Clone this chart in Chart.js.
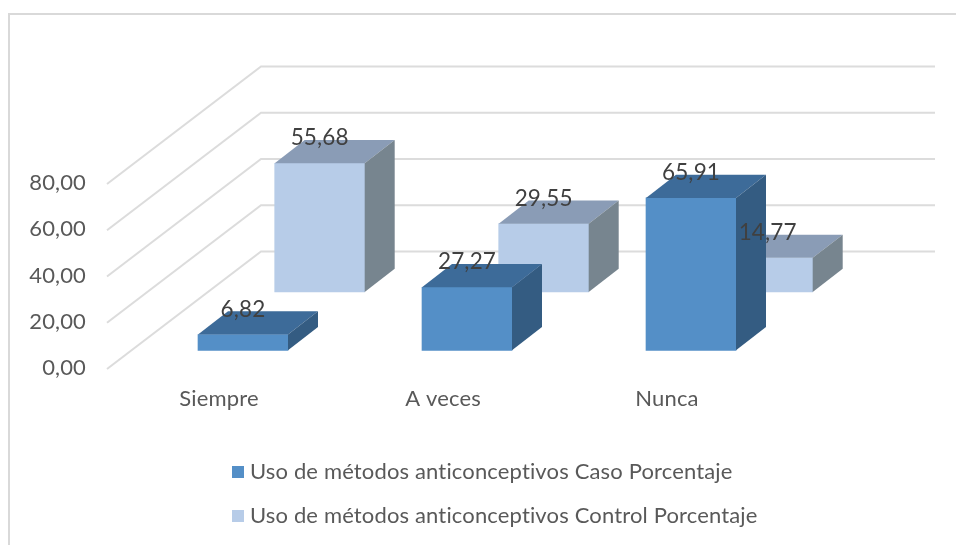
<!DOCTYPE html>
<html><head><meta charset="utf-8">
<style>html,body{margin:0;padding:0;background:#fff;overflow:hidden}canvas{display:block;filter:blur(0.4px)}</style>
<script src="https://cdn.jsdelivr.net/npm/chart.js@4"></script>
</head><body><canvas id="c" width="956" height="545"></canvas>
<script>
const categories = ['Siempre', 'A veces', 'Nunca'];
const casoValues = [6.82, 27.27, 65.91];
const controlValues = [55.68, 29.55, 14.77];
const tickValues = [0, 20, 40, 60, 80];
const seriesNames = ['Uso de métodos anticonceptivos Caso Porcentaje', 'Uso de métodos anticonceptivos Control Porcentaje'];

const FONT = 'Lato';
const fmt = v => Number(v).toFixed(2).replace('.', ',');
const PX_PER_UNIT = 2.3125, BAND = 224, Y_MAX = 140;
const faces = [
  {front:'#548fc7', top:'#3d6b99', side:'#345c82'},
  {front:'#b7cce8', top:'#8a9cb6', side:'#77858f'}
];
const BAR_DEPTH = {dx:30, dy:-23.2};
const WALL = {dx:154, dy:-117.5, right:935};

function marker(color){
  const c = document.createElement('canvas'); c.width = 12; c.height = 12;
  const g = c.getContext('2d'); g.fillStyle = color; g.fillRect(0,0,12,12);
  return c;
}
const px2y = p => p / PX_PER_UNIT, px2x = p => p / BAND;

const scene = {
  id:'scene',
  beforeDraw(chart){
    const g = chart.ctx;
    g.letterSpacing = '0.15px';
    g.save(); g.fillStyle='#fff'; g.fillRect(0,0,956,545);
    g.strokeStyle='#d9d9d9'; g.lineWidth=2;
    g.beginPath(); g.moveTo(9,545); g.lineTo(9,14); g.lineTo(956,14); g.stroke();
    g.restore();
  },
  beforeDatasetsDraw(chart){
    const g = chart.ctx, y = chart.scales.y, x0 = chart.chartArea.left;
    g.save(); g.strokeStyle='#dcdcdc'; g.lineWidth=2;
    tickValues.forEach(v=>{
      const p = y.getPixelForValue(v);
      g.beginPath(); g.moveTo(x0,p); g.lineTo(x0+WALL.dx,p+WALL.dy); g.lineTo(WALL.right,p+WALL.dy); g.stroke();
    });
    g.restore();
  },
  afterDatasetDraw(chart,args){
    const g = chart.ctx, f = faces[args.index], meta = args.meta;
    g.save();
    meta.data.forEach(b=>{
      const l=b.x-b.width/2, r=b.x+b.width/2, t=b.y, bt=b.base, dx=BAR_DEPTH.dx, dy=BAR_DEPTH.dy;
      g.fillStyle=f.top;
      g.beginPath(); g.moveTo(l,t); g.lineTo(l+dx,t+dy); g.lineTo(r+dx,t+dy); g.lineTo(r,t); g.closePath(); g.fill();
      g.fillStyle=f.side;
      g.beginPath(); g.moveTo(r,t); g.lineTo(r+dx,t+dy); g.lineTo(r+dx,bt+dy); g.lineTo(r,bt); g.closePath(); g.fill();
    });
    g.restore();
  },
  afterDatasetsDraw(chart){
    const g = chart.ctx;
    g.save(); g.fillStyle='#404040'; g.font='22.5px '+FONT; g.textAlign='center'; g.textBaseline='middle';
    [1,0].forEach(i=>{
      const ds = chart.data.datasets[i];
      chart.getDatasetMeta(i).data.forEach((b,k)=>g.fillText(fmt(ds.data[k].y), b.x, b.y-25));
    });
    g.restore();
  },
  afterLayout(chart){
    const l = chart.legend; const pad = l.options.labels.padding;
    l.left = 236 - pad; l.right = 956; l.top = 461 - pad; l.bottom = 620;
  }
};

new Chart(document.getElementById('c'),{
  type:'bar',
  data:{
    labels:categories,
    datasets:[
      {label:seriesNames[0], data:categories.map((c,i)=>({x:i,y:casoValues[i]})), backgroundColor:faces[0].front, xAxisID:'xCaso', yAxisID:'yCaso', barThickness:90, grouped:false, clip:false},
      {label:seriesNames[1], data:categories.map((c,i)=>({x:i,y:controlValues[i]})), backgroundColor:faces[1].front, xAxisID:'xControl', yAxisID:'yControl', barThickness:90, grouped:false, clip:false}
    ]
  },
  plugins:[scene],
  options:{
    responsive:false, animation:false, devicePixelRatio:1,
    layout:{padding:{top:369-Y_MAX*PX_PER_UNIT,right:177,bottom:0,left:0}},
    plugins:{
      tooltip:{enabled:false},
      legend:{
        position:'chartArea', align:'start',
        labels:{
          font:{family:FONT,size:22}, color:'#595959', padding:22, usePointStyle:true, pointStyleWidth:3,
          generateLabels(chart){
            return Chart.defaults.plugins.legend.labels.generateLabels(chart).map((it,i)=>Object.assign(it,{pointStyle:marker(faces[i].front)}));
          }
        }
      }
    },
    scales:{
      x:{type:'category',labels:categories,position:'bottom',grid:{display:false},border:{display:false},
         ticks:{font:{family:FONT,size:22},color:'#595959',padding:9,maxRotation:0},
         afterFit(s){s.height=545-369;}},
      y:{type:'linear',position:'left',min:0,max:Y_MAX,grid:{display:false},border:{display:false},
         afterBuildTicks(s){s.ticks=tickValues.map(v=>({value:v}));},
         ticks:{font:{family:FONT,size:22},color:'#595959',padding:13,labelOffset:-1,callback:v=>fmt(v)},
         afterFit(s){s.width=107;}},
      xCaso:{type:'linear',display:false,offset:false,min:-0.5-px2x(24),max:2.5-px2x(24)},
      xControl:{type:'linear',display:false,offset:false,min:-0.5-px2x(100.7),max:2.5-px2x(100.7)},
      yCaso:{type:'linear',display:false,min:-px2y(18.7),max:Y_MAX-px2y(18.7)},
      yControl:{type:'linear',display:false,min:-px2y(77),max:Y_MAX-px2y(77)}
    }
  }
});
</script></body></html>
